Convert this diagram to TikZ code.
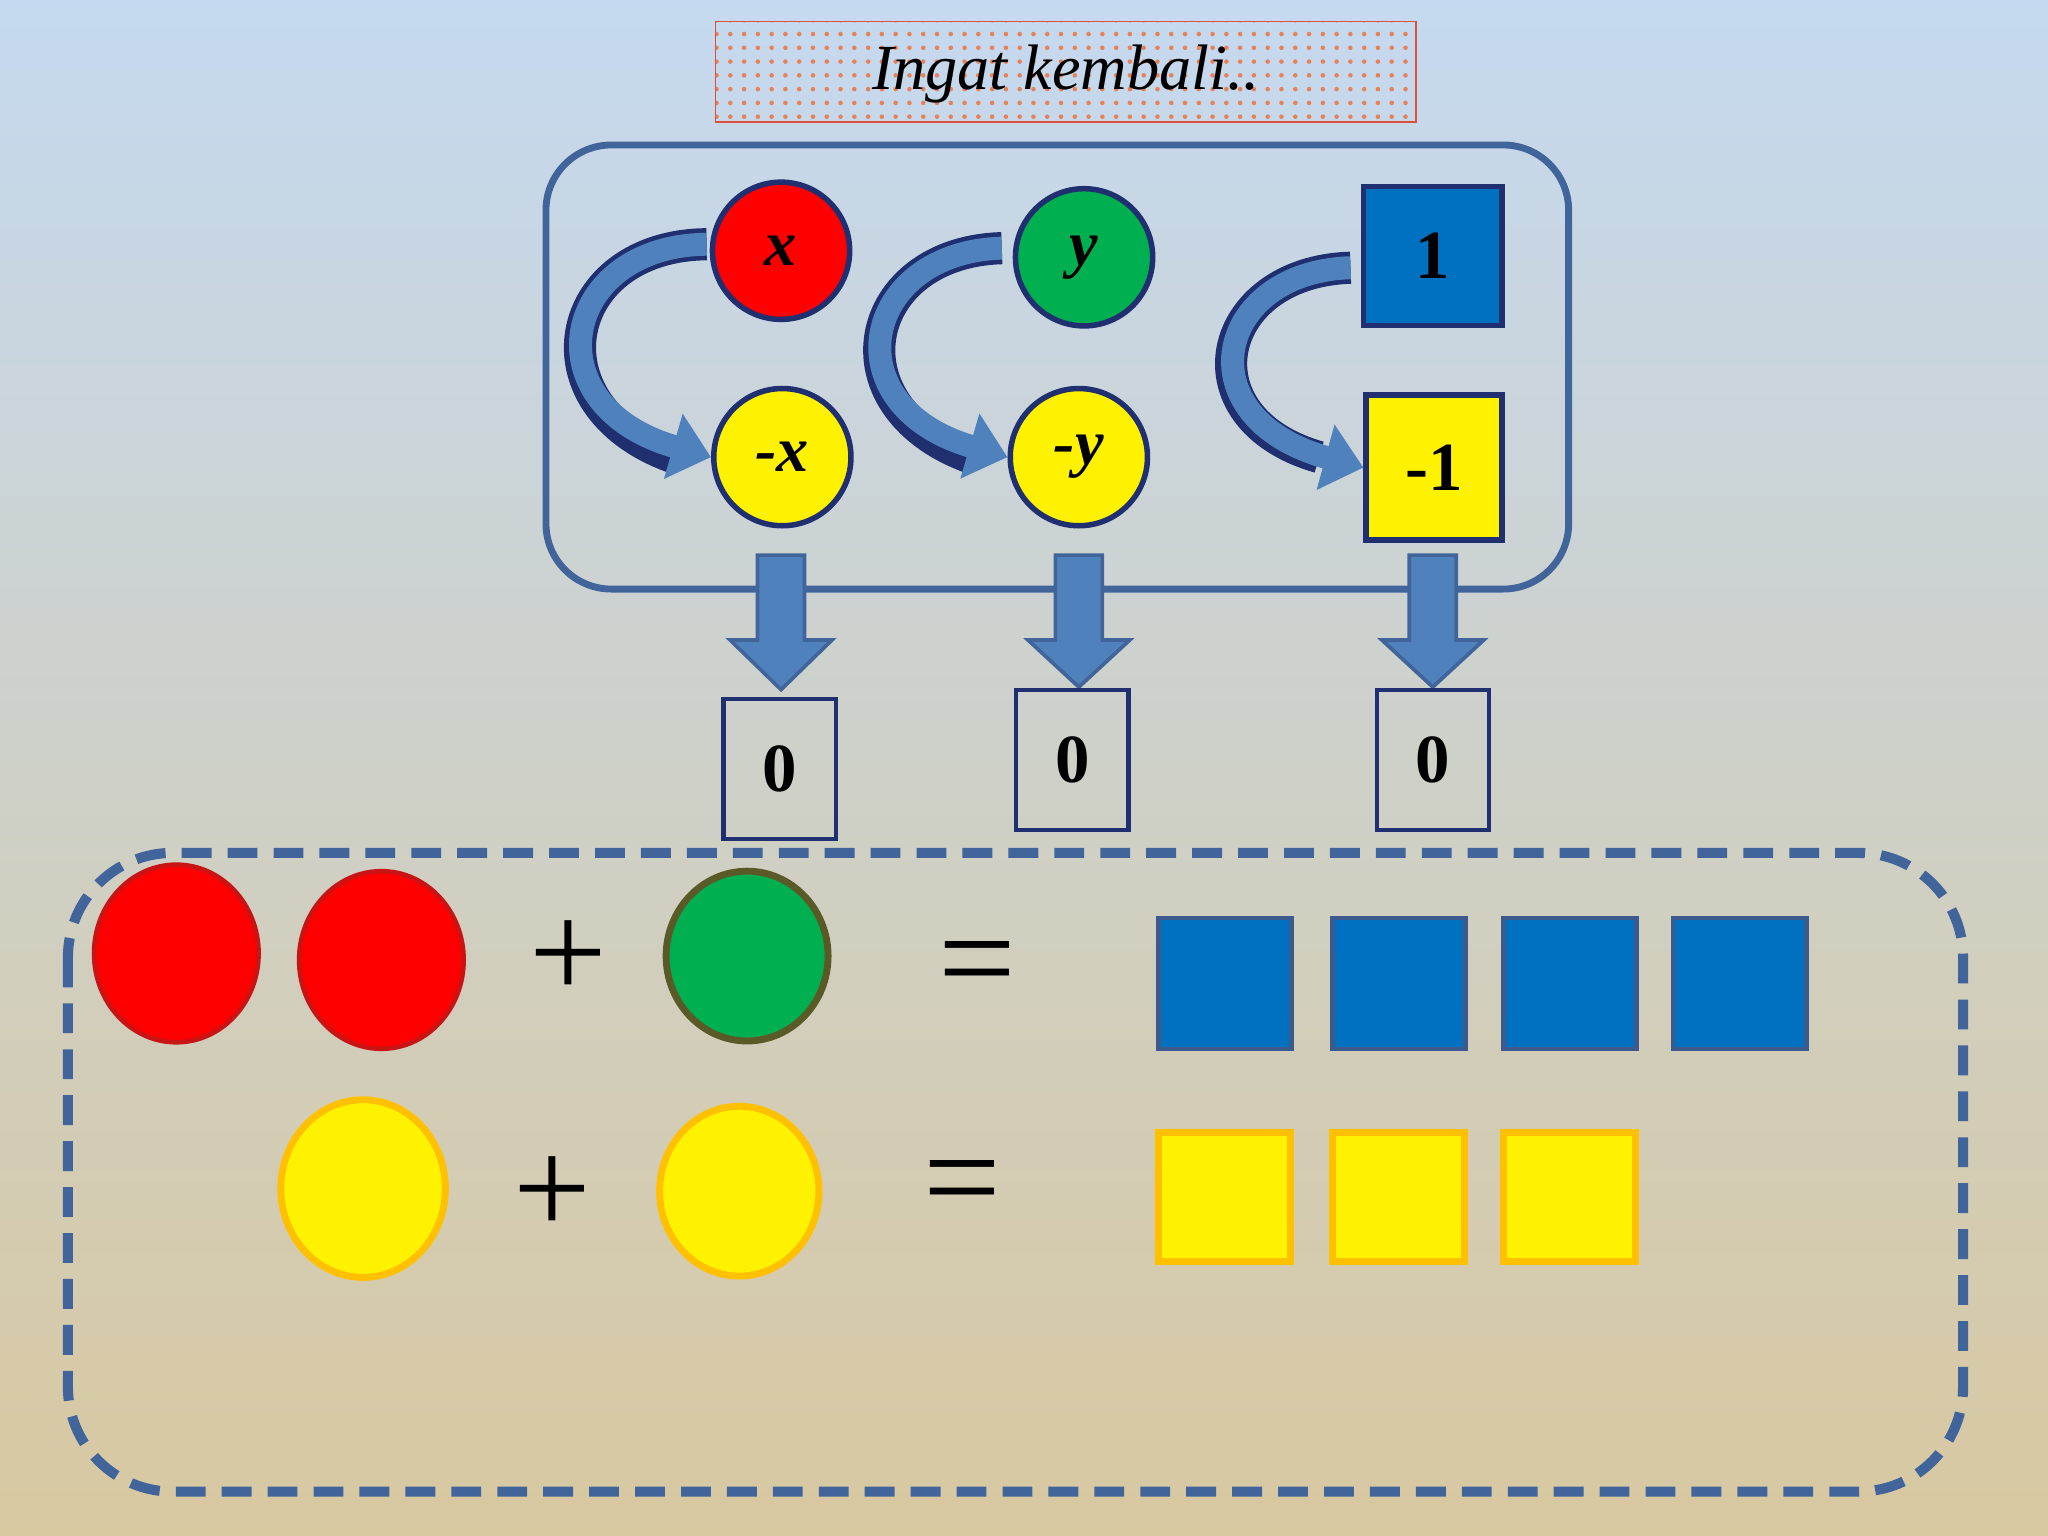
\documentclass[tikz,border=0pt]{standalone}
\usepackage{fontspec}
\setmainfont{Liberation Serif}
\usetikzlibrary{arrows.meta,patterns}
\definecolor{bluefill}{HTML}{4F81BD}
\definecolor{navy}{HTML}{1F2F6F}
\definecolor{frame}{HTML}{41659A}
\definecolor{sq}{HTML}{0070C0}
\definecolor{gr}{HTML}{00B050}
\definecolor{org}{HTML}{FFC000}
\tikzset{
 lbl/.style={font=\fontsize{14}{14}\selectfont\bfseries\itshape},
 circ/.style={circle,draw=navy,line width=1.2pt,minimum size=1.05cm,inner sep=0pt},
 sqr/.style={draw=navy,line width=1.2pt,inner sep=0pt},
 zero/.style={draw=navy,line width=0.9pt,minimum width=0.86cm,minimum height=1.07cm,font=\fontsize{15}{15}\selectfont\bfseries},
 curv/.style={line width=5pt,bluefill,-{Triangle[length=0.3cm,width=0.5cm]}},
 big/.style={font=\fontsize{30}{30}\selectfont},
}
\begin{document}
\begin{tikzpicture}[x=0.01cm,y=-0.01cm]
\shade[top color={rgb,255:red,197;green,217;blue,240},middle color={rgb,255:red,242;green,238;blue,218},bottom color={rgb,255:red,216;green,200;blue,160}] (0,0) rectangle (1568,1176);
\useasboundingbox (0,0) rectangle (1568,1176);
% title
\node[draw={rgb,255:red,220;green,80;blue,60},fill={rgb,255:red,250;green,220;blue,200},minimum width=5.36cm,minimum height=0.77cm,pattern=dots,pattern color={rgb,255:red,230;green,130;blue,90}] (tb) at (816,55) {};
\node[font=\fontsize{14}{14}\selectfont\itshape] (tt) at (816,57) {Ingat kembali..};
% frame
\draw[frame,line width=1.5pt,rounded corners=0.5cm] (418,111) rectangle (1201,451);
% shapes
\node[circ,fill=red,lbl] (x) at (598,192) {x};
\node[circ,fill=yellow,lbl] (nx) at (599,350) {-x};
\node[circ,fill=gr,lbl] (y) at (830,197) {y};
\node[circ,fill=yellow,lbl] (ny) at (826,350) {-y};
\node[sqr,fill=sq,minimum width=1.06cm,minimum height=1.06cm,font=\fontsize{15}{15}\selectfont\bfseries] (one) at (1097,196) {1};
\node[sqr,fill=yellow,minimum width=1.04cm,minimum height=1.11cm,font=\fontsize{15}{15}\selectfont\bfseries] (mone) at (1098,358) {-1};
% curved arrows
\draw[line width=7pt,navy] (541,187) .. controls (430,188) and (405,310) .. (515,350);
\draw[curv] (541,187) .. controls (430,188) and (405,310) .. (nx.west);
\draw[line width=7pt,navy] (767,190) .. controls (660,193) and (635,310) .. (742,350);
\draw[curv] (767,190) .. controls (660,193) and (635,310) .. (ny.west);
\draw[line width=7pt,navy] (1034,205) .. controls (930,208) and (905,320) .. (1010,350);
\draw[curv] (1034,205) .. controls (930,208) and (905,320) .. (mone.west);
% down arrows
\foreach \cx/\tip in {598/528,826/526,1097/526}{
 \fill[bluefill,draw=frame,line width=0.8pt] (\cx-18,425) -- (\cx+18,425) -- (\cx+18,490) -- (\cx+39,490) -- (\cx,\tip) -- (\cx-39,490) -- (\cx-18,490) -- cycle;
}
\node[zero] (z1) at (597,589) {0};
\node[zero] (z2) at (821,582) {0};
\node[zero] (z3) at (1097,582) {0};
% dashed box
\draw[frame,line width=2.2pt,dash pattern=on 6.5pt off 3.5pt,rounded corners=0.8cm] (52,653) rectangle (1503,1142);
% row 1
\fill[red,draw={rgb,255:red,200;green,20;blue,20},line width=1pt] (135,730) ellipse [x radius=63,y radius=68];
\fill[red,draw={rgb,255:red,200;green,20;blue,20},line width=1pt] (292,735) ellipse [x radius=63,y radius=68];
\node[big] (p1) at (435,735) {+};
\fill[gr,draw={rgb,255:red,90;green,90;blue,40},line width=1.5pt] (572,732) ellipse [x radius=62,y radius=65];
\node[big] (e1) at (748,745) {=};
\foreach \a in {887,1020,1151,1281}
 \fill[sq,draw={rgb,255:red,60;green,90;blue,140},line width=1pt] (\a,703) rectangle (\a+102,803);
% row 2
\fill[yellow,draw=org,line width=1.5pt] (278,910) ellipse [x radius=63,y radius=68];
\node[big] (p2) at (423,915) {+};
\fill[yellow,draw=org,line width=1.5pt] (566,912) ellipse [x radius=61,y radius=65];
\node[big] (e2) at (737,913) {=};
\foreach \a in {887,1020,1151}
 \fill[yellow,draw=org,line width=1.5pt] (\a,867) rectangle (\a+101,966);
\end{tikzpicture}
\end{document}
